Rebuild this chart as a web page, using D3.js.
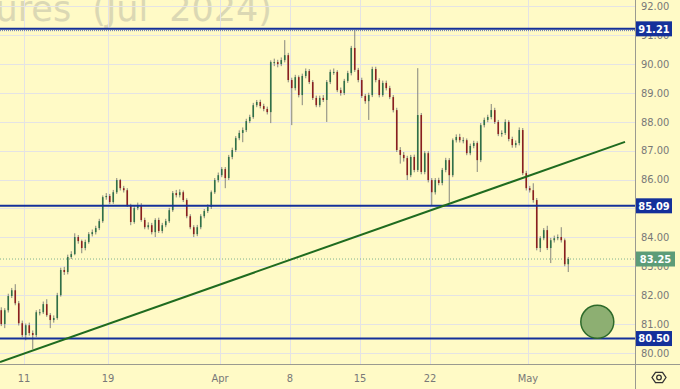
<!DOCTYPE html>
<html>
<head>
<meta charset="utf-8">
<script src="https://cdn.jsdelivr.net/npm/d3@7"></script>
<style>
  html, body { margin: 0; padding: 0; background: #fffac6; }
  svg { display: block; font-family: "DejaVu Sans Condensed", "DejaVu Sans", sans-serif; }
</style>
</head>
<body>
<svg width="680" height="389"></svg>
<script>
// Trading-day ticks (day 0 = Mar 11), 4 bars per trading day
const dayTicks  = [0, 6, 14, 19, 24, 29, 36];
const dayLabels = ["11", "19", "Apr", "8", "15", "22", "May"];
const priceTicks = [80, 81, 82, 83, 84, 85, 86, 87, 88, 89, 90, 91, 92];

const firstBarDay = -1.75;
const barsPerDay = 4;

// [open, high, low, close]
const bars = [
  [81.48,81.58,80.93,81.00],[81.00,81.55,80.86,81.48],[81.48,82.05,81.40,81.97],[81.97,82.25,81.90,82.17],
  [82.17,82.38,81.65,81.72],[81.72,81.80,80.95,81.03],[81.03,81.12,80.55,80.62],[80.62,81.02,80.44,80.96],
  [80.96,81.05,80.60,80.69],[80.69,80.78,80.13,80.62],[80.62,81.48,80.55,81.41],[81.41,81.52,81.30,81.41],
  [81.41,81.78,81.35,81.69],[81.69,81.86,81.25,81.31],[81.31,81.38,80.86,81.14],[81.14,81.30,81.05,81.21],
  [81.21,82.08,81.15,82.00],[82.00,82.95,81.95,82.87],[82.87,82.98,82.70,82.80],[82.80,83.40,82.72,83.32],
  [83.32,83.52,83.25,83.42],[83.42,84.14,83.38,84.01],[84.01,84.08,83.78,83.87],[83.87,83.92,83.45,83.63],
  [83.63,83.92,83.55,83.84],[83.84,84.18,83.78,84.11],[84.11,84.27,84.03,84.18],[84.18,84.40,84.10,84.32],
  [84.32,84.64,84.25,84.56],[84.56,85.45,84.50,85.39],[85.39,85.53,85.30,85.43],[85.43,85.50,85.15,85.22],
  [85.22,85.64,85.16,85.56],[85.56,86.05,85.50,85.98],[85.98,86.02,85.62,85.70],[85.70,85.78,85.55,85.63],
  [85.63,85.70,85.05,85.11],[85.11,85.16,84.42,84.53],[84.53,85.08,84.47,85.01],[85.01,85.20,84.94,85.11],
  [85.11,85.18,84.54,84.60],[84.60,84.68,84.28,84.35],[84.35,84.52,84.27,84.42],[84.42,84.50,84.10,84.18],
  [84.18,84.66,84.01,84.60],[84.60,84.68,84.15,84.22],[84.22,84.50,84.14,84.42],[84.42,84.64,84.35,84.56],
  [84.56,85.02,84.50,84.94],[84.94,85.60,84.88,85.53],[85.53,85.64,85.38,85.46],[85.46,85.66,85.38,85.56],
  [85.56,85.62,85.22,85.29],[85.29,85.35,84.66,84.73],[84.73,84.80,84.28,84.35],[84.35,84.42,84.01,84.11],
  [84.11,84.43,84.04,84.35],[84.35,84.80,84.28,84.73],[84.73,84.98,84.66,84.91],[84.91,85.14,84.84,85.05],
  [85.05,85.62,84.98,85.56],[85.56,86.05,85.50,85.98],[85.98,86.24,85.90,86.15],[86.15,86.43,86.08,86.36],
  [86.36,86.43,85.70,86.05],[86.05,86.85,85.98,86.78],[86.78,87.10,86.70,87.02],[87.02,87.50,86.95,87.43],
  [87.43,87.70,87.36,87.61],[87.61,87.80,87.29,87.71],[87.71,88.10,87.64,88.02],[88.02,88.24,87.95,88.16],
  [88.16,88.65,88.10,88.57],[88.57,88.75,88.50,88.68],[88.68,88.76,88.46,88.54],[88.54,88.62,88.36,88.44],
  [88.44,88.52,88.25,88.33],[88.33,90.12,87.95,90.06],[90.06,90.18,89.92,90.06],[90.06,90.14,89.88,89.99],
  [89.99,90.22,89.92,90.13],[90.13,90.82,90.05,90.30],[90.30,90.38,89.36,89.44],[89.44,89.52,87.88,89.16],
  [89.16,89.62,89.08,89.54],[89.54,89.60,88.84,88.92],[88.92,89.66,88.57,89.58],[89.58,89.84,89.50,89.75],
  [89.75,89.82,89.30,89.37],[89.37,89.44,88.75,88.82],[88.82,88.90,88.50,88.57],[88.57,88.90,88.50,88.82],
  [88.82,88.92,88.68,88.75],[88.75,89.44,87.99,89.37],[89.37,89.80,89.30,89.72],[89.72,89.84,89.62,89.72],
  [89.72,89.78,89.02,89.09],[89.09,89.18,88.90,88.99],[88.99,89.48,88.92,89.41],[89.41,89.76,89.34,89.68],
  [89.68,90.62,89.60,90.55],[90.55,91.17,89.72,89.79],[89.79,89.86,89.36,89.44],[89.44,89.52,88.82,88.89],
  [88.89,88.96,88.62,88.71],[88.71,89.00,88.06,88.92],[88.92,89.90,88.85,89.82],[89.82,89.90,89.36,89.44],
  [89.44,89.50,88.84,88.92],[88.92,89.42,88.86,89.34],[89.34,89.42,89.08,89.16],[89.16,89.24,88.78,88.85],
  [88.85,88.92,88.32,88.40],[88.40,88.48,86.95,87.02],[87.02,87.12,86.55,86.85],[86.85,86.95,86.62,86.74],
  [86.74,86.82,85.98,86.15],[86.15,86.85,86.08,86.78],[86.78,86.86,86.25,86.33],[86.33,89.85,86.26,88.23],
  [88.23,88.30,86.18,86.26],[86.26,86.98,86.18,86.91],[86.91,86.98,85.90,85.98],[85.98,86.05,85.08,85.56],
  [85.56,86.05,85.48,85.98],[85.98,86.06,85.80,85.88],[85.88,86.40,85.80,86.33],[86.33,86.75,86.25,86.67],
  [86.67,86.74,85.20,86.15],[86.15,87.42,86.08,87.36],[87.36,87.56,87.28,87.47],[87.47,87.58,87.28,87.36],
  [87.36,87.46,87.25,87.36],[87.36,87.42,86.84,86.91],[86.91,87.24,86.84,87.16],[87.16,87.34,87.08,87.26],
  [87.26,87.32,86.26,86.67],[86.67,87.95,86.60,87.88],[87.88,88.14,87.80,88.06],[88.06,88.24,87.98,88.16],
  [88.16,88.61,88.08,88.40],[88.40,88.48,87.92,87.99],[87.99,88.06,87.50,87.57],[87.57,87.70,87.48,87.61],
  [87.61,88.08,87.54,87.99],[87.99,88.05,87.32,87.40],[87.40,87.48,87.10,87.19],[87.19,87.35,87.10,87.26],
  [87.26,87.80,87.18,87.71],[87.71,87.78,86.15,86.22],[86.22,86.30,85.62,85.70],[85.70,85.78,85.55,85.63],
  [85.63,85.87,85.20,85.29],[85.29,85.36,83.55,83.63],[83.63,84.04,83.49,83.97],[83.97,84.32,83.90,84.25],
  [84.25,84.40,83.56,83.63],[83.63,83.98,83.11,83.90],[83.90,84.06,83.82,83.97],[83.97,84.10,83.90,84.01],
  [84.01,84.35,83.82,83.90],[83.90,83.96,83.00,83.07],[83.07,83.32,82.80,83.25]
];

const levels = [91.21, 85.09, 80.50];
const lastPrice = 83.25;
const trendLine = [[-1.714, 79.69], [42.93, 87.30]];   // [day, price]
const target = [40.95, 81.08];                           // [day, price]

const W = 680, H = 389;
const plotRight = 635, plotBottom = 364;

const svg = d3.select("svg");

const x = d3.scaleLinear().domain([0, 36]).range([24, 528]);
const y = d3.scaleLinear().domain([80, 92]).range([353, 6]);

svg.append("rect").attr("width", W).attr("height", H).attr("fill", "#fffac6");

svg.append("defs").append("clipPath").attr("id", "plot")
  .append("rect").attr("width", plotRight).attr("height", plotBottom);

// watermark
svg.append("text")
  .attr("x", 272).attr("y", 21)
  .attr("text-anchor", "end")
  .style("font-family", "'DejaVu Sans', sans-serif")
  .style("font-size", "35px")
  .style("word-spacing", "10px")
  .attr("fill", "#dbd8b4")
  .text("Brent Crude Oil Futures (Jul 2024)");

// grid
const grid = svg.append("g").attr("clip-path", "url(#plot)");
grid.selectAll(".hg").data(priceTicks).enter().append("line")
  .attr("x1", 0).attr("x2", plotRight)
  .attr("y1", d => Math.round(y(d)) + 0.5).attr("y2", d => Math.round(y(d)) + 0.5)
  .attr("stroke", "#e4e3e4");
grid.selectAll(".vg").data(dayTicks).enter().append("line")
  .attr("y1", 0).attr("y2", plotBottom)
  .attr("x1", d => Math.round(x(d)) + 0.5).attr("x2", d => Math.round(x(d)) + 0.5)
  .attr("stroke", "#e4e3e4");

const plot = svg.append("g").attr("clip-path", "url(#plot)");

// last price dotted line
plot.append("line")
  .attr("x1", 0).attr("x2", plotRight)
  .attr("y1", y(lastPrice)).attr("y2", y(lastPrice))
  .attr("stroke", "#7fb08f").attr("stroke-dasharray", "1,2");

// candles
const barX = i => x(firstBarDay + (i + 0.5) / barsPerDay);
const candles = plot.append("g");
candles.selectAll(".wick").data(bars).enter().append("line")
  .attr("x1", (d, i) => barX(i)).attr("x2", (d, i) => barX(i))
  .attr("y1", d => y(d[1])).attr("y2", d => y(d[2]))
  .attr("stroke", "#85857c").attr("stroke-width", 1);
candles.selectAll(".body").data(bars).enter().append("rect")
  .attr("x", (d, i) => barX(i) - 0.8)
  .attr("width", 1.6)
  .attr("y", d => y(Math.max(d[0], d[3])))
  .attr("height", d => Math.max(1, Math.abs(y(d[0]) - y(d[3]))))
  .attr("fill", d => d[3] >= d[0] ? "#2f7048" : "#8a1f1f");

// horizontal levels
plot.selectAll(".lvl").data(levels).enter().append("line")
  .attr("x1", 0).attr("x2", plotRight)
  .attr("y1", d => y(d)).attr("y2", d => y(d))
  .attr("stroke", "#14309a").attr("stroke-width", 2);
plot.append("line")
  .attr("x1", 0).attr("x2", plotRight)
  .attr("y1", y(levels[0]) + 1.8).attr("y2", y(levels[0]) + 1.8)
  .attr("stroke", "#5a6fb8").attr("stroke-dasharray", "1,1").attr("stroke-width", 1);

// trend line
plot.append("line")
  .attr("x1", x(trendLine[0][0])).attr("y1", y(trendLine[0][1]))
  .attr("x2", x(trendLine[1][0])).attr("y2", y(trendLine[1][1]))
  .attr("stroke", "#1f6b1f").attr("stroke-width", 2);

// target circle
plot.append("circle")
  .attr("cx", x(target[0])).attr("cy", y(target[1])).attr("r", 16.5)
  .attr("fill", "#8daf72").attr("stroke", "#2d6a2a").attr("stroke-width", 1.5);

// axis borders
svg.append("line").attr("x1", plotRight + 0.5).attr("x2", plotRight + 0.5)
  .attr("y1", 0).attr("y2", H).attr("stroke", "#9a9a90");
svg.append("line").attr("x1", 0).attr("x2", W)
  .attr("y1", plotBottom + 0.5).attr("y2", plotBottom + 0.5).attr("stroke", "#9a9a90");

// price labels
svg.selectAll(".pl").data(priceTicks).enter().append("text")
  .attr("x", 641).attr("y", d => y(d))
  .attr("dy", "0.35em")
  .style("font-size", "11px")
  .attr("fill", "#787878")
  .text(d => d.toFixed(2));

// time labels
svg.selectAll(".tl").data(dayTicks).enter().append("text")
  .attr("x", d => x(d)).attr("y", 378)
  .attr("dy", "0.35em")
  .attr("text-anchor", "middle")
  .style("font-size", "11px")
  .attr("fill", "#787878")
  .text((d, i) => dayLabels[i]);

// level tags
const tags = levels.map(v => ({ v, fill: "#14309a", w: 36 }))
  .concat([{ v: lastPrice, fill: "#5c9c78", w: 39 }]);
const tag = svg.selectAll(".tag").data(tags).enter().append("g");
tag.append("rect")
  .attr("x", 636).attr("y", d => y(d.v) - 7.5)
  .attr("width", d => d.w).attr("height", 15)
  .attr("fill", d => d.fill);
tag.append("text")
  .attr("x", d => 636 + d.w / 2).attr("y", d => y(d.v))
  .attr("dy", "0.35em")
  .attr("text-anchor", "middle")
  .style("font-size", "11px")
  .style("font-weight", "bold")
  .attr("fill", "#fff")
  .text(d => d.v.toFixed(2));

// settings icon
const hex = d3.range(6).map(k => {
  const a = Math.PI / 3 * k;
  return [659 + 7 * Math.cos(a), 377.5 + 6 * Math.sin(a)];
});
svg.append("path")
  .attr("d", d3.line()(hex) + "Z")
  .attr("fill", "none").attr("stroke", "#333").attr("stroke-width", 1.3);
svg.append("circle").attr("cx", 659).attr("cy", 377.5).attr("r", 2.3)
  .attr("fill", "none").attr("stroke", "#333").attr("stroke-width", 1.3);
</script>
</body>
</html>
